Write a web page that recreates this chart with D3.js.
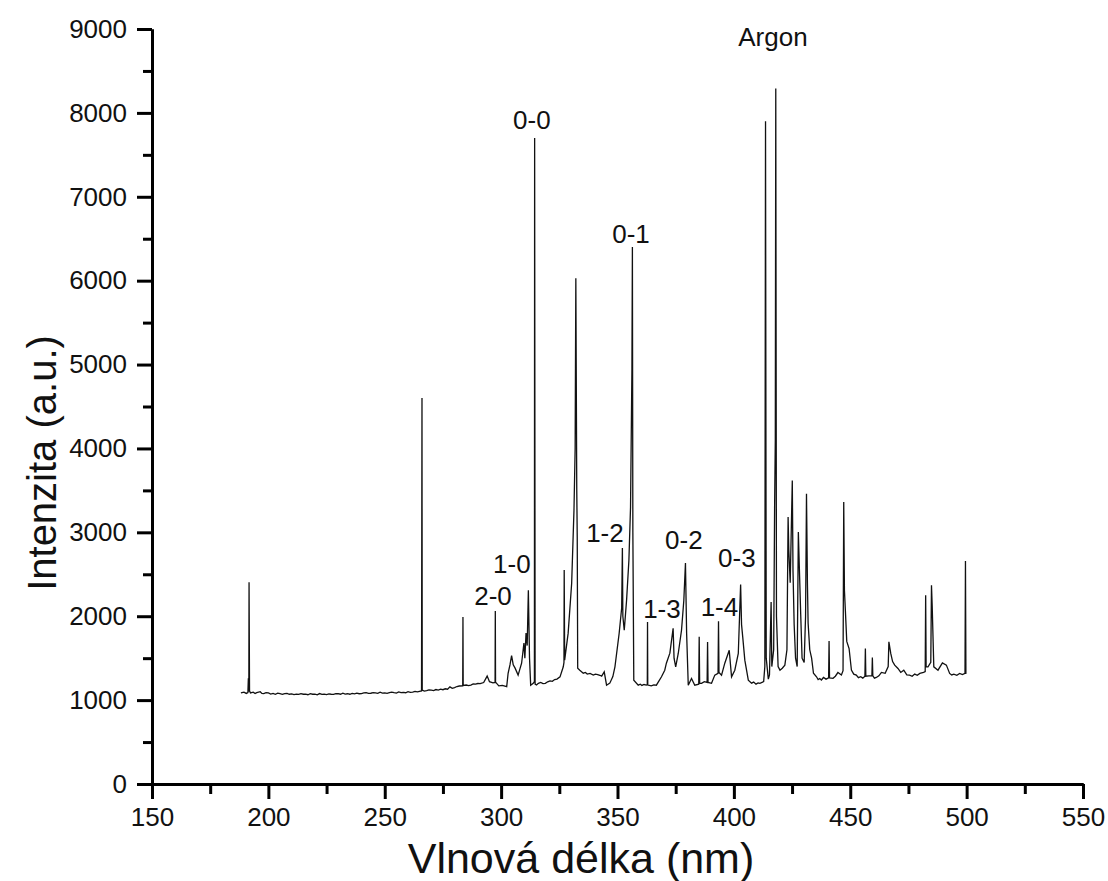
<!DOCTYPE html>
<html>
<head>
<meta charset="utf-8">
<script src="https://cdn.jsdelivr.net/npm/d3@7"></script>
<style>
body { margin: 0; background: #fff; }
svg { display: block; font-family: Arial, "Liberation Sans", sans-serif; }
</style>
</head>
<body>
<svg width="1108" height="881"></svg>
<script>
// spectrum: [wavelength nm, intensity a.u.]
var spectrum = [
[188.2,1087],[189.5,1095],[190.5,1080],[191.2,1090],[191.4,1260],[191.6,1100],[191.7,2405],[191.9,1110],
[192.3,1085],[193.5,1095],[194.3,1078],[195,1088],[196.5,1100],[197.2,1080],[198,1078],[199,1090],[200,1085],
[201,1072],[202,1080],[203,1070],[204,1082],[205,1076],[206,1068],[207,1078],[208,1080],[209,1070],[210,1074],
[211,1066],[212,1072],[213,1068],[214,1078],[215,1070],[216,1072],[217,1064],[218,1076],[219,1070],[220,1070],
[221,1062],[222,1078],[223,1068],[224,1072],[225,1066],[226,1074],[227,1070],[228,1068],[229,1076],[230,1078],
[231,1070],[232,1082],[233,1072],[234,1076],[235,1070],[236,1080],[237,1074],[238,1084],[239,1076],[240,1078],
[241,1086],[242,1090],[243,1080],[244,1082],[245,1090],[246,1086],[247,1080],[248,1094],[249,1084],[250,1086],
[251,1080],[252,1090],[253,1096],[254,1088],[255,1084],[256,1098],[257,1090],[258,1092],[259,1088],[260,1100],
[261,1092],[262,1096],[263,1104],[264,1098],[265.8,1110],
[266.0,4600],[266.1,1120],[267,1108],[268,1112],[269,1122],[270,1120],[271,1114],[272,1126],[273,1120],
[274,1130],[275,1124],[276,1135],[277,1130],[278,1158],[279,1140],[280,1150],[281,1162],
[282,1168],[283.5,1170],[283.6,1990],[283.7,1175],[285,1180],[286,1172],[287,1178],[288,1192],[289,1190],
[290,1198],[291,1196],[292.5,1210],
[294,1286],[295,1220],[296.5,1205],[297.4,1210],[297.5,2063],[297.6,1215],[299,1170],[300.5,1175],[302.4,1160],
[303,1320],[303.8,1420],[304.5,1530],[305.2,1420],[306,1381],[307.3,1298],[308.8,1440],[309.8,1680],[310.2,1500],
[310.7,1800],[311.2,1650],[311.7,2310],[312.2,1500],[312.7,1178],[313.8,1200],[314.3,1220],[314.4,7700],
[314.6,1190],[315.2,1180],[316,1200],[317,1210],[318,1196],[319,1200],[320,1218],[321,1230],[322,1224],[323,1245],[324,1250],[325.3,1277],[326.7,1397],[327.0,1450],
[327.1,2550],[327.3,1476],[328.8,1798],[330.3,2390],[331.3,3262],[331.8,4000],[332.1,6030],[332.5,3500],
[332.7,2944],[332.9,1381],[333.8,1357],[335.3,1321],[336.2,1330],[337,1310],[338.2,1318],[339.6,1298],[340.5,1310],[341.5,1305],[342.4,1296],[343.2,1286],
[344.3,1337],[345.3,1178],[346.7,1202],[348,1280],[348.9,1397],[350.7,1794],[351.8,2100],[352.1,2813],
[352.3,2000],[352.9,1833],[353.9,2190],[354.9,2667],[355.6,3300],[356.2,4950],[356.4,6400],[356.6,3000],
[357,1238],[358.9,1178],[359.8,1190],[360.5,1175],[361.4,1186],[362.4,1180],[362.8,1185],[362.9,1932],[363.0,1180],[364.5,1170],[365.6,1182],
[366.7,1178],[368.9,1278],[370.3,1357],[371,1440],[372.5,1560],[373.9,1857],[374.3,1500],[375,1397],
[376.1,1556],[377.5,1833],[378.5,2190],[379.2,2635],[379.7,1794],[380.4,1178],[381.8,1258],[383.2,1178],
[384.9,1190],[385.1,1754],[385.3,1200],[386.1,1200],[387.3,1220],[388.5,1210],[388.7,1694],[388.9,1210],[390.4,1200],
[391.8,1298],[393.2,1320],[393.4,1940],[393.6,1330],[394.7,1298],[396.1,1440],[398,1595],[399,1278],
[400.4,1357],[401.9,1556],[402.9,2377],[403.3,1900],[403.8,1754],[404.7,1476],[406.2,1238],[407.6,1202],
[408.5,1215],[409.5,1190],[410.4,1206],[411.2,1200],[412.8,1220],[413.3,1400],[413.6,7900],[413.9,1500],[414.8,1250],[415.3,1300],
[416.0,2170],[416.3,1400],[417.1,1600],[417.5,3300],[417.8,4100],[418.0,8290],[418.3,2000],[419,1400],
[419.8,1357],[420.8,1380],[421.9,1417],[422.8,1600],[423.3,3183],[423.6,2786],[424.2,2400],[425.1,3619],
[425.4,2548],[425.9,1900],[426.5,1500],[427.2,1400],[427.7,3004],[428.1,2607],[428.7,2036],[429.3,1500],
[430.2,1450],[430.8,2000],[431.2,3460],[431.6,2393],[431.9,1917],[432.6,1600],[433.4,1500],[434.2,1320],
[435.5,1278],[436.2,1245],[436.9,1258],[437.6,1240],[438.5,1270],[439.6,1250],[440.7,1265],[440.9,1706],[441.1,1265],[442.6,1260],[443.6,1285],[444.7,1329],
[446.2,1300],[446.9,1350],[447.2,3361],[447.5,2310],[447.9,2071],[448.5,1700],[449.5,1615],[450.5,1357],
[451.5,1310],[452.6,1298],[453.5,1268],[454.5,1280],[455.4,1262],[456.3,1285],[456.5,1615],[456.7,1285],[458,1290],[459.3,1290],[459.5,1508],
[459.7,1290],[460.4,1262],[461.2,1270],[462.3,1290],[463.4,1330],[465,1320],[466.3,1400],[466.6,1694],[467.4,1556],[468.2,1460],
[469.1,1417],[470.5,1377],[471.7,1330],[473,1357],[474.3,1300],[475.5,1298],[476.6,1284],[477.7,1310],[478.8,1296],[479.9,1318],[481.5,1330],[482.2,1340],
[482.4,2250],[482.6,1397],[483.4,1397],[484.6,1450],[484.9,2369],[485.2,2131],[485.9,1397],[487.7,1357],
[489.6,1444],[491.3,1417],[492.7,1318],[493.6,1300],[494.5,1310],[495.8,1296],[497,1318],[498.2,1304],[499.3,1320],[499.5,2658],[499.7,1318],
[499.9,1318]
];

var xMajor = [150,200,250,300,350,400,450,500,550];
var xMinor = [175,225,275,325,375,425,475,525];
var yMajor = [0,1000,2000,3000,4000,5000,6000,7000,8000,9000];
var yMinor = [500,1500,2500,3500,4500,5500,6500,7500,8500];

// band labels, placed at [wavelength, intensity] of the text baseline centre
var bandNames = ["0-0","0-1","2-0","1-0","1-2","1-3","0-2","1-4","0-3","Argon"];
var bandX = [313.2,355.8,296.5,304.6,344.6,369.1,378.5,393.8,401.3,416.8];
var bandY = [7810,6452,2131,2512,2885,1973,2798,2000,2587,8798];

var svg = d3.select("svg");

var x = d3.scaleLinear().domain([150,550]).range([152,1083]);
var y = d3.scaleLinear().domain([0,9000]).range([784,29]);

var line = d3.line()
	.x(function(d) { return x(d[0]); })
	.y(function(d) { return y(d[1]); });

svg.append("path")
	.datum(spectrum)
	.attr("fill","none")
	.attr("stroke","#111")
	.attr("stroke-width",1.3)
	.attr("stroke-linejoin","miter")
	.attr("d",line);

function styleAxis(g){
	g.select(".domain").attr("stroke","#000").attr("stroke-width",3);
	g.selectAll(".tick line").attr("stroke","#000").attr("stroke-width",3);
	g.selectAll("text").attr("fill","#111").style("font-size","26px");
}

var gx = svg.append("g").attr("transform","translate(0,784)");
gx.call(d3.axisBottom(x).tickValues(xMinor).tickSize(10).tickSizeOuter(0).tickFormat(""));
gx.call(styleAxis);
var gx2 = svg.append("g").attr("transform","translate(0,784)");
gx2.call(d3.axisBottom(x).tickValues(xMajor).tickSize(15).tickSizeOuter(0).tickPadding(9).tickFormat(d3.format("d")));
gx2.call(styleAxis);

var gy = svg.append("g").attr("transform","translate(152,0)");
gy.call(d3.axisLeft(y).tickValues(yMinor).tickSize(9).tickSizeOuter(0).tickFormat(""));
gy.call(styleAxis);
var gy2 = svg.append("g").attr("transform","translate(152,0)");
gy2.call(d3.axisLeft(y).tickValues(yMajor).tickSize(15).tickSizeOuter(0).tickPadding(10).tickFormat(d3.format("d")));
gy2.call(styleAxis);

svg.selectAll(".band")
	.data(bandNames)
	.enter().append("text")
	.attr("class","band")
	.attr("x",function(d,i){ return x(bandX[i]); })
	.attr("y",function(d,i){ return y(bandY[i]); })
	.attr("text-anchor","middle")
	.attr("fill","#111")
	.style("font-size","26px")
	.text(function(d){ return d; });

svg.append("text")
	.attr("x",581)
	.attr("y",873)
	.attr("text-anchor","middle")
	.attr("fill","#111")
	.style("font-size","43px")
	.text("Vlnová délka (nm)");

svg.append("text")
	.attr("transform","translate(56,463) rotate(-90)")
	.attr("text-anchor","middle")
	.attr("fill","#111")
	.style("font-size","40px")
	.text("Intenzita (a.u.)");
</script>
</body>
</html>
